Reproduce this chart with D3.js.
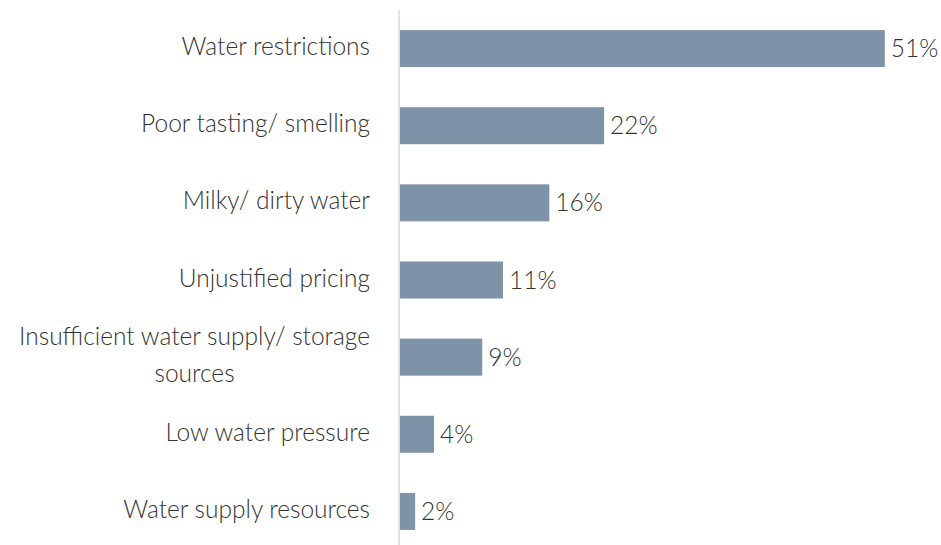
<!DOCTYPE html>
<html><head><meta charset="utf-8">
<script src="https://cdn.jsdelivr.net/npm/d3@7"></script>
<style>
body{margin:0;background:#fff;}
text{font-family:"Source Sans Pro","Lato","Open Sans",sans-serif;font-weight:300;fill:#333;}
</style></head>
<body><svg id="c" width="941" height="545"></svg>
<script>
const categories = ["Water restrictions","Poor tasting/ smelling","Milky/ dirty water","Unjustified pricing","Insufficient water supply/ storage sources","Low water pressure","Water supply resources"];
const values = [51.3, 21.6, 15.8, 10.9, 8.7, 3.6, 1.6];
const valueLabels = ["51%","22%","16%","11%","9%","4%","2%"];

const svg = d3.select("#c");
const x0 = 399;
const fs = 24.5;
const x = d3.scaleLinear().domain([0, 100]).range([x0, x0 + 945]);
const y = d3.scaleBand().domain(categories).range([10, 550]).paddingInner(0.52).paddingOuter(0.26);

svg.append("line").attr("x1", x0).attr("x2", x0).attr("y1", 10).attr("y2", 545)
  .attr("stroke", "#d9d9d9").attr("stroke-width", 1.5);

const data = categories.map((c, i) => ({c, v: values[i], l: valueLabels[i]}));

svg.selectAll("rect.bar").data(data).join("rect").attr("class", "bar")
  .attr("x", x(0) + 1).attr("y", d => y(d.c))
  .attr("width", d => x(d.v) - x(0)).attr("height", y.bandwidth())
  .attr("fill", "#7f93a8");

svg.selectAll("text.val").data(data).join("text").attr("class", "val")
  .attr("x", d => x(d.v) + 7).attr("y", d => y(d.c) + y.bandwidth() / 2)
  .attr("dy", "0.35em").attr("font-size", fs).text(d => d.l);

const maxW = 365;
svg.selectAll("text.cat").data(data).join("text").attr("class", "cat")
  .attr("text-anchor", "end").attr("font-size", fs)
  .each(function(d) {
    const t = d3.select(this);
    const words = d.c.split(" ");
    let lines = [], cur = [];
    const tmp = t.append("tspan");
    words.forEach(w => {
      cur.push(w);
      tmp.text(cur.join(" "));
      if (tmp.node().getComputedTextLength() > maxW && cur.length > 1) {
        cur.pop(); lines.push(cur.join(" ")); cur = [w];
      }
    });
    lines.push(cur.join(" "));
    tmp.remove();
    const lh = 37;
    const cy = y(d.c) + y.bandwidth() / 2 - 2;
    lines.forEach((ln, i) => {
      const ty = lines.length === 1 ? cy : cy - lh / 2 + i * lh;
      t.append("tspan").attr("x", 370).attr("y", ty).attr("dy", "0.35em")
        .attr("text-anchor", i === lines.length - 1 && lines.length > 1 ? "middle" : "end")
        .text(ln);
    });
  });
// center the second line of wrapped labels under the first line
svg.selectAll("text.cat").each(function() {
  const tsp = d3.select(this).selectAll("tspan").nodes();
  if (tsp.length > 1) {
    const w0 = tsp[0].getComputedTextLength();
    tsp.slice(1).forEach(n => d3.select(n).attr("x", 370 - w0 / 2));
  }
});
</script></body></html>
